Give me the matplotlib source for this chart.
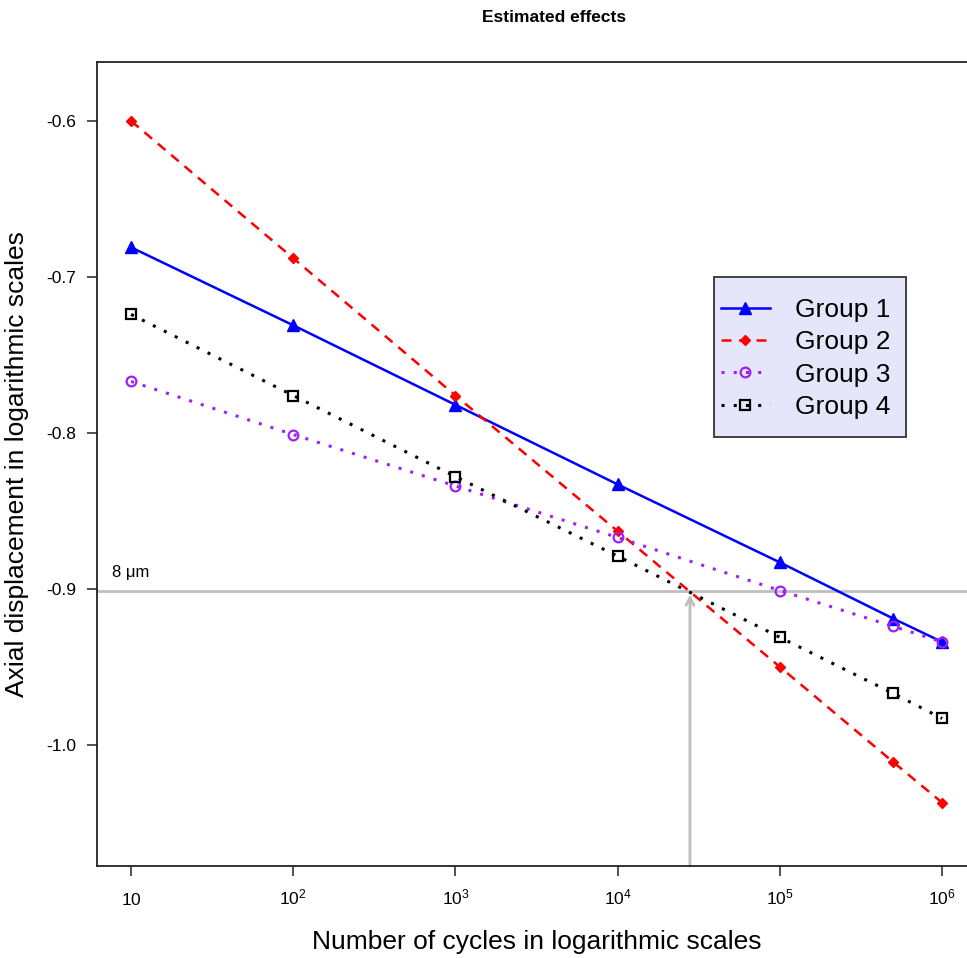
import matplotlib
matplotlib.use("Agg")
import matplotlib.pyplot as plt
from matplotlib.patches import Rectangle
import numpy as np

plt.rcParams['font.family'] = ['Liberation Sans', 'DejaVu Sans']
plt.rcParams['mathtext.fontset'] = 'custom'
plt.rcParams['mathtext.rm'] = 'Liberation Sans'
plt.rcParams['mathtext.it'] = 'Liberation Sans'

cycles = [10, 100, 1000, 1e4, 1e5, 5e5, 1e6]
group1 = [-0.681, -0.731, -0.782, -0.833, -0.883, -0.919, -0.934]
group2 = [-0.600, -0.688, -0.776, -0.863, -0.950, -1.011, -1.037]
group3 = [-0.767, -0.801, -0.834, -0.867, -0.901, -0.924, -0.934]
group4 = [-0.724, -0.776, -0.828, -0.879, -0.931, -0.967, -0.983]
labels = ["Group 1", "Group 2", "Group 3", "Group 4"]
threshold = -0.9015   # 8 um reference line
cross_x = 27900
xticks = [10, 100, 1000, 1e4, 1e5, 1e6]
xticklabels = [r"$\mathregular{10}$", r"$\mathregular{10^2}$", r"$\mathregular{10^3}$",
               r"$\mathregular{10^4}$", r"$\mathregular{10^5}$", r"$\mathregular{10^6}$"]
yticks = [-0.6, -0.7, -0.8, -0.9, -1.0]
yticklabels = ["-0.6", "-0.7", "-0.8", "-0.9", "-1.0"]

W, H = 967, 958
fig = plt.figure(figsize=(W / 100, H / 100), dpi=100)
ax = fig.add_axes([97 / W, 1 - 866 / H, 880 / W, (866 - 62) / H])

ax.set_xscale('log')
ax.set_xlim(10 ** 0.79, 10 ** 6.215)
ax.set_ylim(-1.0776, -0.5622)

ax.axhline(threshold, color='#BEBEBE', lw=2, zorder=1)
ax.annotate("", xy=(cross_x, threshold - 0.002), xytext=(cross_x, -1.0776),
            arrowprops=dict(arrowstyle='->', color='#BEBEBE', lw=2,
                            shrinkA=0, shrinkB=0, mutation_scale=14), zorder=1)
ax.text(7.6, threshold + 0.007, "8 μm", fontsize=12, ha='left', va='bottom')

ax.plot(cycles, group1, color='blue', ls='-', lw=1.8, marker='^', ms=8.5,
        mfc='blue', mec='blue', label=labels[0], zorder=3)
ax.plot(cycles, group2, color='red', ls=(0, (4, 3)), lw=1.8, marker='D', ms=5,
        mfc='red', mec='red', label=labels[1], zorder=3)
ax.plot(cycles, group3, color='#A020F0', ls=(0, (1, 3)), lw=2.2, marker='o', ms=7,
        mfc='none', mec='#A020F0', mew=1.6, label=labels[2], zorder=3)
ax.plot(cycles, group4, color='black', ls=(0, (1, 3)), lw=2.2, marker='s', ms=7,
        mfc='none', mec='black', mew=1.6, label=labels[3], zorder=3)

ax.set_xticks(xticks)
ax.set_xticklabels(xticklabels)
ax.minorticks_off()
ax.set_yticks(yticks)
ax.set_yticklabels(yticklabels)
ax.tick_params(direction='out', length=7, width=1.2, labelsize=12.5,
               color='#333333')
ax.tick_params(axis='x', pad=21)
ax.tick_params(axis='y', pad=8)
for lab in ax.get_xticklabels():
    lab.set_verticalalignment('baseline')
for s in ax.spines.values():
    s.set_linewidth(1.3)
    s.set_color('#222222')

ax.set_xlabel("Number of cycles in logarithmic scales", fontsize=19, labelpad=16)
ax.set_ylabel("Axial displacement in logarithmic scales", fontsize=19, labelpad=12)
fig.text(554 / W, 1 - 18 / H, "Estimated effects", fontsize=12.5, fontweight='bold',
         ha='center', va='center')

# legend background box
box = Rectangle((714 / W, 1 - 437 / H), (906 - 714) / W, (437 - 277) / H,
                transform=fig.transFigure, facecolor='#E6E6FA',
                edgecolor='#333333', lw=1.3, zorder=5, clip_on=False)
ax.add_artist(box)
leg = ax.legend(loc='center left', bbox_to_anchor=(721 / W, 1 - 358.5 / H),
                bbox_transform=fig.transFigure, fontsize=19, frameon=False,
                handlelength=1.85, borderpad=0, borderaxespad=0,
                labelspacing=0.31, handletextpad=0.95)
leg.set_zorder(6)

fig.savefig("out.png", dpi=100)
